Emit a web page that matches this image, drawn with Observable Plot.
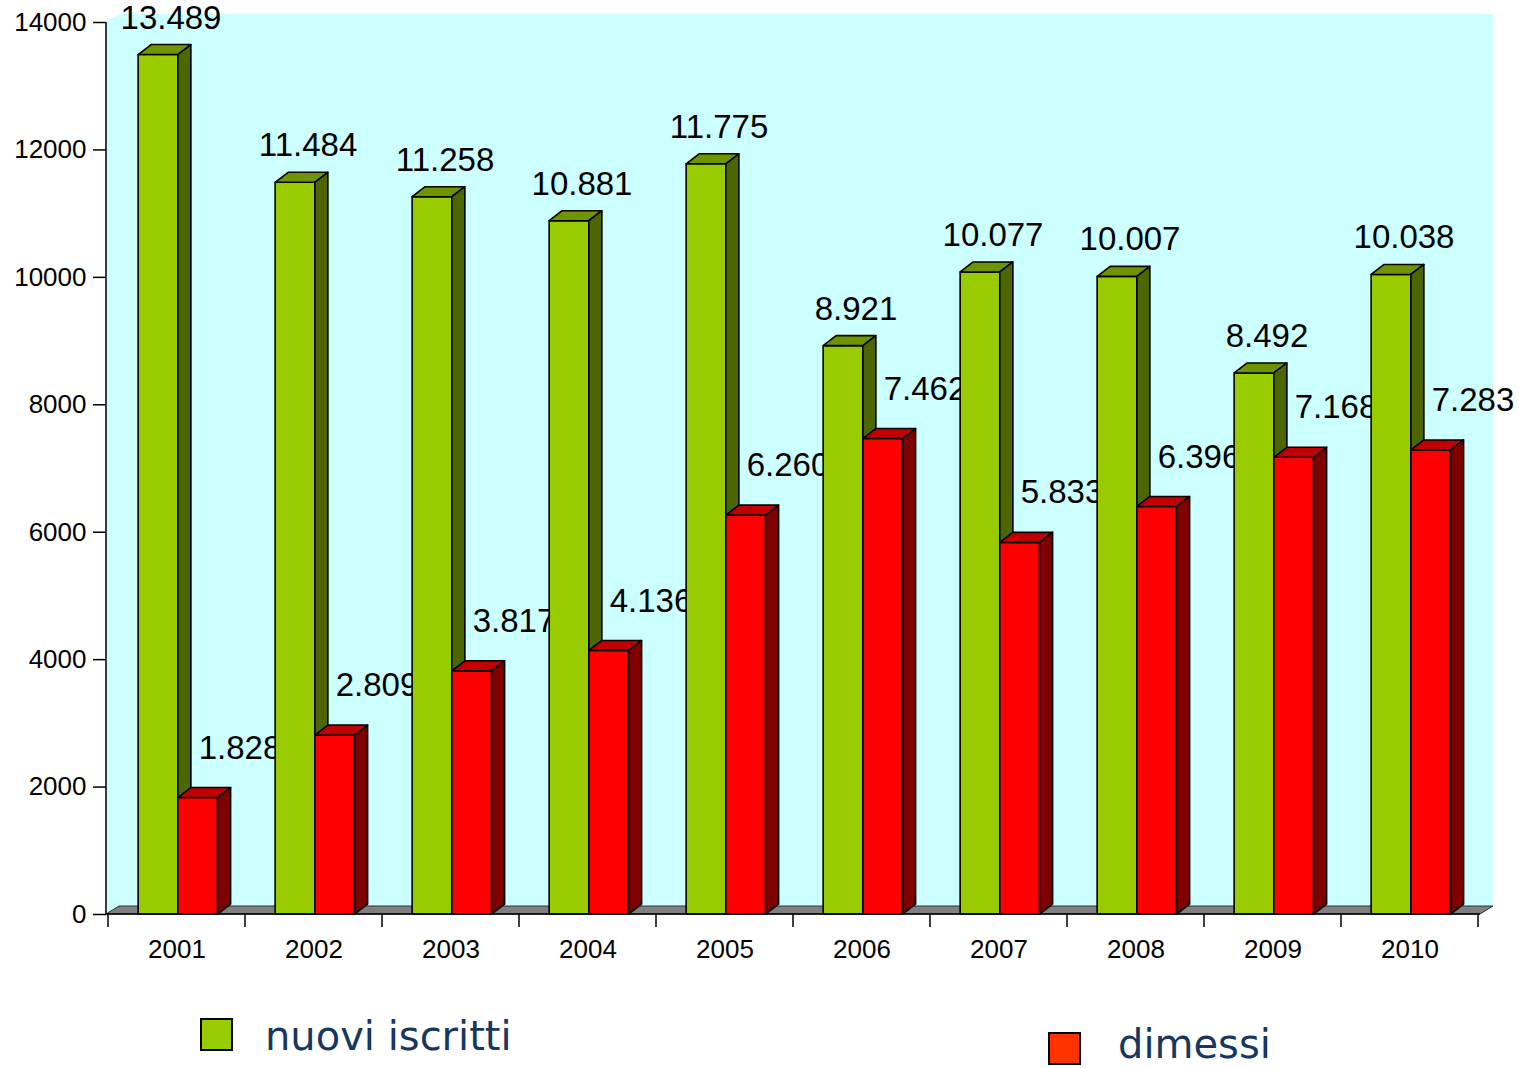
<!DOCTYPE html>
<html><head><meta charset="utf-8">
<script src="https://cdn.jsdelivr.net/npm/d3@7"></script>
<script src="https://cdn.jsdelivr.net/npm/@observablehq/plot@0.6"></script>
<style>
body{margin:0;background:#fff;}
#chart{width:1519px;}
#legend{position:relative;width:1519px;height:78px;font-family:"DejaVu Sans",Verdana,sans-serif;}
.sw{position:absolute;box-sizing:border-box;width:33px;height:33px;border:2px solid #000;}
.lt{position:absolute;font-size:40px;color:#17375e;line-height:0.8;white-space:nowrap;}
</style></head><body>
<div id="chart"></div>
<div id="legend"></div>
<script>
const years = ["2001","2002","2003","2004","2005","2006","2007","2008","2009","2010"];
const nuoviIscritti = [13489,11484,11258,10881,11775,8921,10077,10007,8492,10038];
const dimessi = [1828,2809,3817,4136,6260,7462,5833,6396,7168,7283];
const yTicks = [0,2000,4000,6000,8000,10000,12000,14000];
const seriesNames = ["nuovi iscritti","dimessi"];
const seriesColors = {
  "nuovi iscritti": {front:"#99cc00", top:"#6f9400", side:"#4d6600", legend:"#99cc00"},
  "dimessi": {front:"#ff0000", top:"#c00000", side:"#800000", legend:"#ff3300"}
};

const it = d3.formatLocale({decimal:",", thousands:".", grouping:[3], currency:["€",""]});
const fmt = it.format(",d");

const rows = (vals, name) => years.map((y,i)=>({year:y, value:vals[i], series:name}));
const greenRows = rows(nuoviIscritti, seriesNames[0]);
const redRows = rows(dimessi, seriesNames[1]);

// back wall + floor
function wallMark(index, scales) {
  const x = scales.x, y = scales.y;
  const [x0, x1] = x.range();
  const yb = y(0), yt = y(14000);
  const WX = 13, WY = 8;
  const g = d3.create("svg:g");
  g.append("path")
    .attr("d", `M${x0},${yt}L${x0+WX},${yt-WY}L${x1+WX},${yt-WY}L${x1+WX},${yb-WY}L${x1},${yb}L${x0},${yb}Z`)
    .attr("fill", "#ccffff");
  g.append("path")
    .attr("d", `M${x0},${yb}L${x0+WX},${yb-WY}L${x1+WX},${yb-WY}L${x1},${yb}Z`)
    .attr("fill", "#808080").attr("stroke", "#333").attr("stroke-width", 1);
  return g.node();
}
// axis lines and category boundary ticks
function axisLines(index, scales) {
  const x = scales.x, y = scales.y;
  const [x0, x1] = x.range();
  const yb = y(0), yt = y(14000);
  const bw = x.bandwidth();
  const g = d3.create("svg:g").attr("stroke", "#000").attr("stroke-width", 1.5).attr("fill", "none");
  g.append("path").attr("d", `M${x0},${yt}V${yb}H${x1}`);
  const bounds = years.map(yr => x(yr)).concat([x(years[years.length-1]) + bw]);
  bounds.forEach(b => g.append("path").attr("d", `M${b},${yb}V${yb+13}`));
  return g.node();
}
function bars3d(data, colors, offsetFrac, widthFrac) {
  return (index, scales) => {
    const x = scales.x, y = scales.y;
    const bw = x.bandwidth();
    const DX = 13, DY = 10;
    const g = d3.create("svg:g").attr("stroke", "#000").attr("stroke-width", 1.6).attr("stroke-linejoin", "round");
    data.forEach(d => {
      const xl = x(d.year) + offsetFrac * bw, xr = xl + widthFrac * bw;
      const yt = y(d.value), yb = y(0);
      g.append("path").attr("fill", colors.front).attr("d", `M${xl},${yt}H${xr}V${yb}H${xl}Z`);
      g.append("path").attr("fill", colors.top).attr("d", `M${xl},${yt}L${xl+DX},${yt-DY}H${xr+DX}L${xr},${yt}Z`);
      g.append("path").attr("fill", colors.side).attr("d", `M${xr},${yt}L${xr+DX},${yt-DY}V${yb-DY}L${xr},${yb}Z`);
    });
    return g.node();
  };
}

const plot = Plot.plot({
  width: 1519,
  height: 990,
  marginLeft: 106,
  marginRight: 39,
  marginTop: 22,
  marginBottom: 76,
  style: {fontFamily: "'Liberation Sans', Arial, sans-serif", background: "transparent", color: "#000", overflow: "visible"},
  x: {type: "band", domain: years, padding: 0},
  y: {domain: [0, 14000]},
  marks: [
    wallMark,
    Plot.text(greenRows, {x: "year", y: "value", text: d => fmt(d.value), dx: -6, dy: -37, fontSize: 33, fill: "#000"}),
    Plot.text(redRows, {x: "year", y: "value", text: d => fmt(d.value), dx: 63, dy: -50, fontSize: 33, fill: "#000"}),
    bars3d(greenRows, seriesColors[seriesNames[0]], 0.22, 0.29),
    bars3d(redRows, seriesColors[seriesNames[1]], 0.51, 0.29),
    axisLines,
    Plot.axisY({ticks: yTicks, tickSize: 13, tickPadding: 7, fontSize: 26, tickFormat: d3.format("d"), label: null, strokeWidth: 1.5}),
    Plot.axisX({tickSize: 0, tickPadding: 25, fontSize: 26, label: null})
  ]
});
document.getElementById("chart").appendChild(plot);

const legend = document.getElementById("legend");
const legendItems = [
  {name: seriesNames[0], sw: [200, 28], txt: [265, 30]},
  {name: seriesNames[1], sw: [1048, 42], txt: [1118, 38]}
];
legendItems.forEach(it2 => {
  const s = document.createElement("div");
  s.className = "sw";
  s.style.left = it2.sw[0] + "px"; s.style.top = it2.sw[1] + "px";
  s.style.background = seriesColors[it2.name].legend;
  legend.appendChild(s);
  const t = document.createElement("div");
  t.className = "lt";
  t.style.left = it2.txt[0] + "px"; t.style.top = it2.txt[1] + "px";
  t.textContent = it2.name;
  legend.appendChild(t);
});
</script>
</body></html>
